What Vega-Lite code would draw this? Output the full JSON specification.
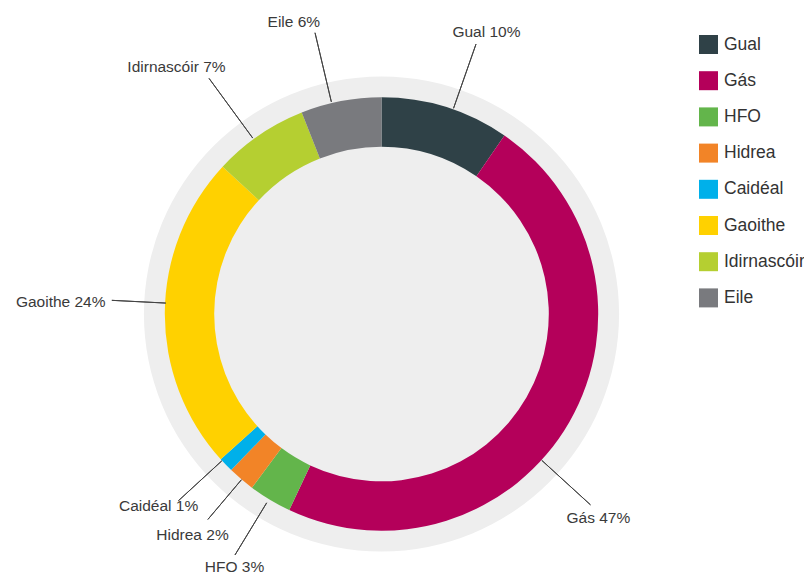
{
  "$schema": "https://vega.github.io/schema/vega-lite/v6.json",
  "width": 763,
  "height": 628,
  "padding": 0,
  "autosize": {"type": "pad"},
  "background": "white",
  "config": {
    "view": {"stroke": null},
    "font": "Liberation Sans"
  },
  "data": {
    "values": [
      {"name": "Gual", "order": 1, "value": 9.6, "label": "Gual 10%", "la": 20.4, "lr": 301, "ln": 19.3, "r0": 218, "r1": 286},
      {"name": "Gás", "order": 2, "value": 47.4, "label": "Gás 47%", "la": 133.3, "lr": 298, "ln": 132.4, "r0": 217, "r1": 283},
      {"name": "HFO", "order": 3, "value": 3.2, "label": "HFO 3%", "la": 210.1, "lr": 293, "ln": 211.3, "r0": 221, "r1": 282},
      {"name": "Hidrea", "order": 4, "value": 2.0, "label": "Hidrea 2%", "la": 220.5, "lr": 291, "ln": 220.2, "r0": 217, "r1": 269},
      {"name": "Caidéal", "order": 5, "value": 1.1, "label": "Caidéal 1%", "la": 229.3, "lr": 294, "ln": 227.4, "r0": 217, "r1": 276},
      {"name": "Gaoithe", "order": 6, "value": 23.6, "label": "Gaoithe 24%", "la": 272.1, "lr": 321, "ln": 272.9, "r0": 216, "r1": 270},
      {"name": "Idirnascóir", "order": 7, "value": 7.1, "label": "Idirnascóir 7%", "la": 320.3, "lr": 321, "ln": 323.8, "r0": 218, "r1": 292},
      {"name": "Eile", "order": 8, "value": 6.0, "label": "Eile 6%", "la": 343.3, "lr": 305, "ln": 346.7, "r0": 218, "r1": 289}
    ]
  },
  "layer": [
    {
      "data": {"values": [{"disc": "bg"}]},
      "mark": {"type": "arc", "theta": 0, "theta2": 6.2832, "radius": 237.5, "radius2": 0, "fill": "#eeeeee", "stroke": null},
      "encoding": {}
    },
    {
      "mark": {"type": "arc", "radius": 216.7, "radius2": 167.3, "stroke": null},
      "encoding": {
        "theta": {"field": "value", "type": "quantitative", "stack": true},
        "order": {"field": "order", "type": "quantitative"},
        "color": {
          "field": "name",
          "type": "nominal",
          "scale": {
            "domain": ["Gual", "Gás", "HFO", "Hidrea", "Caidéal", "Gaoithe", "Idirnascóir", "Eile"],
            "range": ["#2f4147", "#b4005a", "#63b54b", "#f28427", "#00b0ea", "#ffd100", "#b5cf31", "#797a7e"]
          },
          "legend": {
            "title": null,
            "orient": "none",
            "legendX": 699,
            "legendY": 35,
            "symbolType": "square",
            "symbolSize": 361,
            "symbolStrokeWidth": 0,
            "symbolOpacity": 1,
            "labelFontSize": 17.5,
            "labelFont": "Liberation Sans",
            "labelColor": "#333333",
            "labelOffset": 6,
            "rowPadding": 17.2,
            "padding": 0,
            "labelLimit": 300
          }
        }
      }
    },
    {
      "mark": {"type": "arc", "filled": false, "stroke": "#444444", "strokeWidth": 1},
      "encoding": {
        "theta": {"field": "ln", "type": "quantitative", "stack": null, "scale": {"domain": [0, 360], "range": [0, 6.283185307]}},
        "theta2": {"field": "ln"},
        "radius": {"field": "r0", "type": "quantitative", "scale": {"type": "linear", "zero": true, "domain": [0, 400], "range": [0, 400]}},
        "radius2": {"field": "r1"}
      }
    },
    {
      "mark": {"type": "text", "align": "center", "baseline": "middle", "fontSize": 15.5, "font": "Liberation Sans", "fill": "#3a3a3a"},
      "encoding": {
        "theta": {"field": "la", "type": "quantitative", "stack": null, "scale": {"domain": [0, 360], "range": [0, 6.283185307]}},
        "radius": {"field": "lr", "type": "quantitative", "scale": {"type": "linear", "zero": true, "domain": [0, 400], "range": [0, 400]}},
        "text": {"field": "label"}
      }
    }
  ],
  "resolve": {"scale": {"theta": "independent", "radius": "independent"}}
}
